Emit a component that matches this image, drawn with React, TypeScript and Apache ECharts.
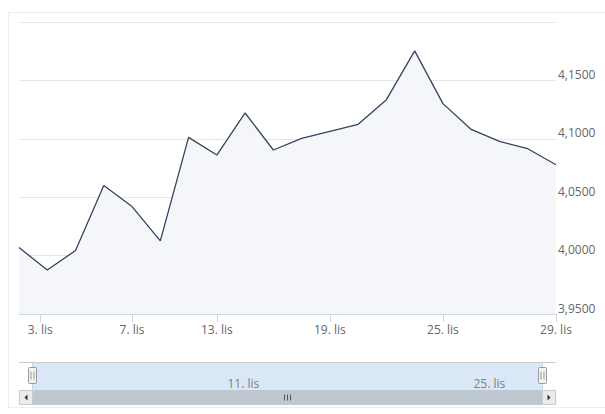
import React, { useEffect, useRef } from "react";
import * as echarts from "echarts";

// Trading days (weekdays, Polish holidays skipped) and closing values
const dates = [
  "2024-10-31", "2024-11-04", "2024-11-05", "2024-11-06", "2024-11-07",
  "2024-11-08", "2024-11-12", "2024-11-13", "2024-11-14", "2024-11-15",
  "2024-11-18", "2024-11-19", "2024-11-20", "2024-11-21", "2024-11-22",
  "2024-11-25", "2024-11-26", "2024-11-27", "2024-11-28", "2024-11-29",
];
const values = [
  4.0069, 3.9877, 4.0043, 4.0600, 4.0420,
  4.0126, 4.1012, 4.0861, 4.1221, 4.0904,
  4.1003, 4.1064, 4.1124, 4.1335, 4.1753,
  4.1301, 4.1080, 4.0978, 4.0915, 4.0778,
];

// Main x-axis tick dates and labels
const tickDates = ["2024-11-03", "2024-11-07", "2024-11-13", "2024-11-19", "2024-11-25", "2024-11-29"];
const tickLabels = ["3. lis", "7. lis", "13. lis", "19. lis", "25. lis", "29. lis"];

// Y axis
const yMin = 3.95;
const yMax = 4.2;
const yStep = 0.05;

// Navigator
const navTickDates = ["2024-11-11", "2024-11-25"];
const navTickLabels = ["11. lis", "25. lis"];
const navRange = ["2024-10-30T06:15:00Z", "2024-11-29T19:40:00Z"];
const selection = ["2024-10-31", "2024-11-29"];

const FONT = "'Open Sans', 'Noto Sans', sans-serif";

export default function App() {
  const ref = useRef<HTMLDivElement>(null);

  useEffect(() => {
    document.body.style.margin = "0";
    const chart = echarts.init(ref.current!, undefined, { renderer: "svg" });

    const ts = dates.map((d) => Date.parse(d));
    const ordinal = (t: number) => {
      for (let i = 0; i < ts.length - 1; i++) {
        if (t >= ts[i] && t <= ts[i + 1]) return i + (t - ts[i]) / (ts[i + 1] - ts[i]);
      }
      return t < ts[0] ? 0 : ts.length - 1;
    };
    const tickPos = tickDates.map((d) => ordinal(Date.parse(d)));
    const navTs = navTickDates.map((d) => Date.parse(d));

    const option: any = {
      animation: false,
      backgroundColor: "#ffffff",
      textStyle: { fontFamily: FONT },
      graphic: [
        {
          type: "rect",
          shape: { x: 8.5, y: 12.5, width: 620, height: 395 },
          style: { fill: "none", stroke: "#ededed", lineWidth: 1 },
          silent: true,
          z: -10,
        },
      ],
      grid: [
        { left: 19, right: 49, top: 22, bottom: 100, containLabel: false },
        { left: 19, right: 49, top: 362, height: 28, containLabel: false },
      ],
      xAxis: [
        {
          type: "value",
          gridIndex: 0,
          min: 0,
          max: dates.length - 1,
          axisLine: { show: true, lineStyle: { color: "#ccd6eb", width: 1 } },
          axisTick: { show: true, length: 8, lineStyle: { color: "#ccd6eb" }, customValues: tickPos },
          splitLine: { show: false },
          axisLabel: {
            customValues: tickPos,
            color: "#666666",
            fontSize: 12,
            fontFamily: FONT,
            margin: 9,
            formatter: (v: number) => {
              const k = tickPos.findIndex((p) => Math.abs(p - v) < 1e-6);
              return k >= 0 ? tickLabels[k] : "";
            },
          },
        },
        {
          type: "time",
          gridIndex: 1,
          min: Date.parse(navRange[0]),
          max: Date.parse(navRange[1]),
          show: false,
        },
      ],
      yAxis: [
        {
          type: "value",
          gridIndex: 0,
          position: "right",
          min: yMin,
          max: yMax,
          interval: yStep,
          axisLine: { show: false },
          axisTick: { show: false },
          splitLine: { show: true, lineStyle: { color: "#e6e6e6", width: 1 } },
          axisLabel: {
            color: "#666666",
            fontSize: 12,
            fontFamily: FONT,
            margin: 2,
            verticalAlign: "bottom",
            formatter: (v: number) =>
              v > yMax - 1e-9 ? "" : v.toFixed(4).replace(".", ","),
          },
        },
        {
          type: "value",
          gridIndex: 1,
          min: 0,
          max: 1,
          show: false,
        },
      ],
      series: [
        {
          type: "line",
          xAxisIndex: 0,
          yAxisIndex: 0,
          data: values.map((v, i) => [i, v]),
          symbol: "none",
          lineStyle: { color: "#34435f", width: 1.3 },
          areaStyle: { color: "#f5f6f9", opacity: 1, origin: "start" },
          silent: true,
        },
        {
          type: "custom",
          xAxisIndex: 1,
          yAxisIndex: 1,
          data: [[Date.parse(selection[0]), Date.parse(selection[1])]],
          encode: { x: [0, 1] },
          clip: false,
          silent: true,
          renderItem: (params: any, api: any) => {
            const cs = params.coordSys;
            const left = cs.x;
            const right = cs.x + cs.width;
            const top = cs.y;
            const bottom = cs.y + cs.height;
            const x1 = Math.round(api.coord([api.value(0), 0])[0]);
            const x2 = Math.round(api.coord([api.value(1), 0])[0]);
            const children: any[] = [];
            // mask
            children.push({
              type: "rect",
              shape: { x: x1, y: top, width: x2 - x1, height: bottom - top },
              style: { fill: "#dae7f7" },
            });
            // grid lines + labels
            navTs.forEach((t, k) => {
              const gx = Math.round(api.coord([t, 0])[0]) + 0.5;
              children.push({
                type: "line",
                shape: { x1: gx, y1: top, x2: gx, y2: bottom },
                style: { stroke: "#e2e6ee", lineWidth: 1 },
              });
              children.push({
                type: "text",
                x: gx + 2,
                y: top + 21.5,
                style: {
                  text: navTickLabels[k],
                  fill: "#808080",
                  fontSize: 12,
                  fontFamily: FONT,
                  verticalAlign: "middle",
                  align: "left",
                },
              });
            });
            // outline
            children.push({
              type: "line",
              shape: { x1: left, y1: top + 0.5, x2: right, y2: top + 0.5 },
              style: { stroke: "#cccccc", lineWidth: 1 },
            });
            [x1, x2].forEach((x) => {
              children.push({
                type: "line",
                shape: { x1: x + 0.5, y1: top, x2: x + 0.5, y2: bottom },
                style: { stroke: "#c8d4e6", lineWidth: 1 },
              });
            });
            // scrollbar
            const sy = bottom + 0.5;
            const sh = 14;
            children.push({
              type: "rect",
              shape: { x: left, y: sy, width: right - left, height: sh },
              style: { fill: "#f2f2f2", stroke: "#f2f2f2" },
            });
            children.push({
              type: "rect",
              shape: { x: x1, y: sy, width: x2 - x1, height: sh },
              style: { fill: "#bfc8d1", stroke: "#bfc8d1" },
            });
            const cx = Math.round((x1 + x2) / 2) + 0.5;
            [-3, 0, 3].forEach((d) => {
              children.push({
                type: "line",
                shape: { x1: cx + d, y1: sy + 4, x2: cx + d, y2: sy + sh - 4 },
                style: { stroke: "#555555", lineWidth: 1 },
              });
            });
            // buttons
            const bw = 13;
            const buttons = [
              { x: left + 0.5, dir: -1 },
              { x: right - bw - 0.5, dir: 1 },
            ];
            buttons.forEach((b) => {
              children.push({
                type: "rect",
                shape: { x: b.x, y: sy, width: bw, height: sh },
                style: { fill: "#ebebeb", stroke: "#cccccc", lineWidth: 1 },
              });
              const bcx = b.x + bw / 2;
              const bcy = sy + sh / 2;
              children.push({
                type: "polygon",
                shape: {
                  points:
                    b.dir < 0
                      ? [[bcx + 1.5, bcy - 3], [bcx - 1.5, bcy], [bcx + 1.5, bcy + 3]]
                      : [[bcx - 1.5, bcy - 3], [bcx + 1.5, bcy], [bcx - 1.5, bcy + 3]],
                },
                style: { fill: "#333333" },
              });
            });
            // handles
            const hy = top + 5.5;
            const hh = 16;
            [x1, x2].forEach((x) => {
              const hx = x + 0.5;
              children.push({
                type: "rect",
                shape: { x: hx - 4, y: hy, width: 8, height: hh, r: 1 },
                style: { fill: "#f2f2f2", stroke: "#999999", lineWidth: 1 },
              });
              [-1.5, 1.5].forEach((d) => {
                children.push({
                  type: "line",
                  shape: { x1: hx + d, y1: hy + 4, x2: hx + d, y2: hy + hh - 4 },
                  style: { stroke: "#999999", lineWidth: 1 },
                });
              });
            });
            return { type: "group", children };
          },
        },
      ],
    };

    chart.setOption(option);
    return () => chart.dispose();
  }, []);

  return <div ref={ref} style={{ width: 605, height: 414 }} />;
}
